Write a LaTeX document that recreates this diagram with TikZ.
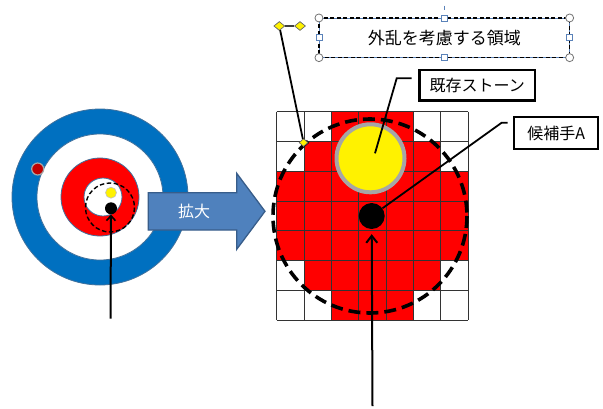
\documentclass[tikz,border=0pt]{standalone}
\usepackage{fontspec}
\newfontfamily\jp{Noto Sans CJK JP}
\usetikzlibrary{arrows.meta,shapes.geometric}
\definecolor{ringblue}{RGB}{0,112,192}
\definecolor{edgeblue}{RGB}{65,113,156}
\definecolor{arrowfill}{RGB}{79,129,189}
\definecolor{arrowedge}{RGB}{56,93,138}
\definecolor{handleblue}{RGB}{90,130,185}
\definecolor{darkred}{RGB}{192,0,0}
\tikzset{
  stone/.style={circle,inner sep=0pt},
  gridline/.style={black!80,line width=0.9},
  leader/.style={black,line width=1.8},
  bigarrow/.style={black,line width=2,-{Straight Barb[length=7pt,width=11pt,line width=2]}},
  labelbox/.style={draw=black,fill=white,inner sep=0pt,font=\jp\fontsize{16}{18}\selectfont},
  ydiamond/.style={diamond,fill=yellow,draw=black!60,line width=0.7,inner sep=0pt},
  cornerhandle/.style={circle,fill=white,draw=black!55,line width=0.8,minimum size=8,inner sep=0pt},
  sidehandle/.style={rectangle,fill=white,draw=handleblue,line width=0.8,minimum size=6,inner sep=0pt},
}
\begin{document}
\begin{tikzpicture}[x=1pt,y=-1pt]
\useasboundingbox (0,0) rectangle (603,408);
% ---------- left house ----------
\filldraw[fill=ringblue,draw=edgeblue,line width=0.8] (100,197) circle (88);
\filldraw[fill=white,draw=edgeblue,line width=0.8] (100,197) circle (63);
\filldraw[fill=red,draw=edgeblue,line width=0.8] (100,197) circle (39);
\filldraw[fill=white,draw=edgeblue,line width=0.8] (103,197) circle (19);
\node[stone,fill=darkred,draw=black!35,line width=1.2,minimum size=12] (reddot) at (37.7,169) {};
\node[stone,fill=yellow,draw=black!25,line width=0.6,minimum size=11] (smallyellow) at (111,192.7) {};
\node[stone,fill=black,minimum size=12] (smallblack) at (111,208.3) {};
\draw[black,line width=1.4,dash pattern=on 4.5 off 2.5] (110,207.5) circle (24.5);
\coordinate (leftfoot) at (110.5,318.5);
\draw[bigarrow,-{Straight Barb[length=5pt,width=9pt,line width=1.6]}] (leftfoot) -- (smallblack.south);
% ---------- zoom arrow ----------
\filldraw[fill=arrowfill,draw=arrowedge,line width=1.3]
  (148.3,192.7) -- (236.7,192.7) -- (236.7,173.3) -- (265,211.3) -- (236.7,249.3) -- (236.7,230) -- (148.3,230) -- cycle;
\node[text=white,font=\jp\fontsize{16}{18}\selectfont] (zoomtext) at (194,211) {拡大};
% ---------- grid ----------
\foreach \r/\a/\b in {0/2/4,1/1/5,2/0/6,3/0/6,4/0/6,5/1/5,6/2/4}
  \fill[red] ({276.7+\a*27.33},{111.7+\r*29.76}) rectangle ({276.7+(\b+1)*27.33},{111.7+(\r+1)*29.76});
\foreach \i in {0,...,7} {
  \draw[gridline] ({276.7+\i*27.33},111.7) -- ({276.7+\i*27.33},320);
  \draw[gridline] (276.7,{111.7+\i*29.76}) -- (468,{111.7+\i*29.76});
}
\draw[black,line width=3.6,dash pattern=on 12 off 6] (370,216) circle (97);
\node[stone,fill=yellow,draw=black!35,line width=4,minimum size=68] (existing) at (370.5,158.3) {};
\node[stone,fill=black,minimum size=26] (candidate) at (371.7,216) {};
\node[ydiamond,minimum width=9,minimum height=8] (griddiamond) at (303.6,142.6) {};
% ---------- labels ----------
\node[labelbox,line width=2.4,minimum width=115.7,minimum height=30.7] (existbox) at (477.2,85.3) {既存ストーン};
\node[labelbox,line width=2,minimum width=84,minimum height=32.6] (candbox) at (556.3,133) {候補手A};
\coordinate (e1) at (411.7,78.3);
\coordinate (e2) at (396.7,78.3);
\coordinate (e3) at (375,153.3);
\draw[leader] (e1) -- (e2) -- (e3);
\coordinate (c1) at (507.7,122.7);
\coordinate (c2) at (501.7,122.7);
\draw[leader] (c1) -- (c2) -- (candidate);
% disturbance region box (selected text box)
\node[draw=handleblue,line width=0.7,fill=white,minimum width=250,minimum height=39,inner sep=0pt,font=\jp\fontsize{17}{20}\selectfont] (regionbox) at (444.3,37.8) {外乱を考慮する領域};
\draw[black,line width=1.3,dash pattern=on 4 off 2.5] (regionbox.north west) rectangle (regionbox.south east);
\draw[handleblue,line width=0.9] (444.3,5.5) -- (444.3,9.5);
\foreach \a in {north west,north east,south west,south east}
  \node[cornerhandle] at (regionbox.\a) {};
\foreach \a in {north,south,west,east}
  \node[sidehandle] at (regionbox.\a) {};
\node[ydiamond,minimum width=11,minimum height=9] (dleft) at (279.3,26) {};
\node[ydiamond,minimum width=11,minimum height=9] (dright) at (300,26) {};
\draw[black!75,line width=1.8] (dleft) -- (dright);
\draw[leader] (dleft) -- (griddiamond);
% ---------- bottom arrow ----------
\coordinate (rightfoot) at (372.5,406);
\draw[bigarrow,shorten >=5pt] (rightfoot) -- (candidate.south);
\end{tikzpicture}
\end{document}
